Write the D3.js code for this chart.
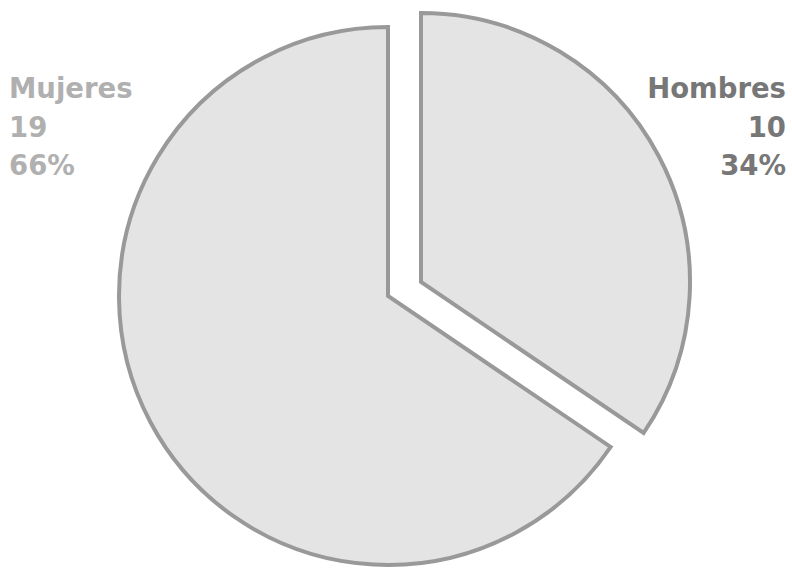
<!DOCTYPE html>
<html>
<head>
<meta charset="utf-8">
<script src="https://cdn.jsdelivr.net/npm/d3@7"></script>
<style>
  html, body { margin: 0; padding: 0; background: #fff; }
  svg text { font-family: "DejaVu Sans", sans-serif; font-weight: 700; }
</style>
</head>
<body>
<svg id="chart" width="792" height="569"></svg>
<script>
// Data
const categories = ["Hombres", "Mujeres"];
const counts = [10, 19];
const percents = ["34%", "66%"];

const width = 792, height = 569;
const cx = 388, cy = 296, radius = 269;

const svg = d3.select("#chart");

const pie = d3.pie().sort(null).value(d => d.count);
const data = categories.map((c, i) => ({ name: c, count: counts[i], pct: percents[i] }));
const arcs = pie(data);

const arc = d3.arc().innerRadius(0).outerRadius(radius);

// Hombres slice is pulled out from the centre
const explode = { Hombres: [33, -14], Mujeres: [0, 0] };

const g = svg.append("g").attr("transform", `translate(${cx},${cy})`);

g.selectAll("path")
  .data(arcs)
  .join("path")
  .attr("d", arc)
  .attr("transform", d => `translate(${explode[d.data.name][0]},${explode[d.data.name][1]})`)
  .attr("fill", "#e4e4e4")
  .attr("stroke", "#999")
  .attr("stroke-width", 4)
  .attr("stroke-linejoin", "miter");

// Labels
const labelStyle = {
  Mujeres: { x: 9, anchor: "start", color: "#b0b0b0" },
  Hombres: { x: 786, anchor: "end", color: "#777" }
};
const baselines = [98, 137, 175];

data.forEach(d => {
  const s = labelStyle[d.name];
  const t = svg.append("text")
    .attr("text-anchor", s.anchor)
    .attr("fill", s.color)
    .attr("font-size", 27.5);
  [d.name, String(d.count), d.pct].forEach((line, i) => {
    t.append("tspan").attr("x", s.x).attr("y", baselines[i]).text(line);
  });
});
</script>
</body>
</html>
